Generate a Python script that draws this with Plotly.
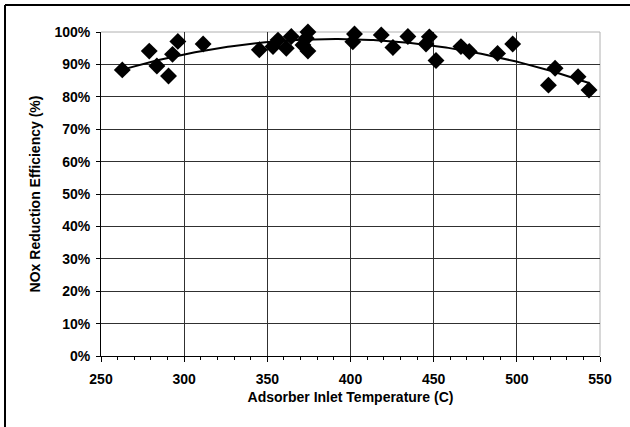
import numpy as np
import plotly.graph_objects as go

# Adsorber inlet temperature (C) and measured NOx reduction efficiency (fraction)
temperature = [262.8, 279.0, 283.6, 290.6, 293.0, 296.2, 311.4,
               345.2, 353.4, 356.4, 361.4, 364.4, 371.4, 373.4, 374.4, 374.4,
               401.4, 402.4, 418.5, 425.5, 434.5, 445.4, 447.4, 451.4,
               466.4, 471.4, 488.4, 497.5, 519.0, 523.0, 536.8, 543.4]
efficiency = [0.883, 0.941, 0.895, 0.864, 0.931, 0.971, 0.963,
              0.945, 0.955, 0.975, 0.950, 0.986, 0.960, 0.981, 1.000, 0.941,
              0.970, 0.994, 0.991, 0.952, 0.986, 0.963, 0.985, 0.912,
              0.955, 0.940, 0.934, 0.963, 0.836, 0.888, 0.862, 0.821]

x_ticks = [250, 300, 350, 400, 450, 500, 550]
y_ticks = [0.0, 0.1, 0.2, 0.3, 0.4, 0.5, 0.6, 0.7, 0.8, 0.9, 1.0]
y_tick_text = ["0%", "10%", "20%", "30%", "40%", "50%", "60%", "70%", "80%", "90%", "100%"]

# Second-order polynomial trendline through the measurements
coef = np.polyfit(temperature, efficiency, 2)
trend_x = np.linspace(min(temperature), max(temperature), 200)
trend_y = np.polyval(coef, trend_x)

FONT = "Arial, Liberation Sans, sans-serif"
W, H = 630, 427
ML, MR, MT, MB = 101, 30, 32, 71

fig = go.Figure()
fig.add_trace(go.Scatter(
    x=temperature, y=efficiency, mode="markers", cliponaxis=False,
    marker=dict(symbol="diamond", size=13, color="black", line=dict(width=0)),
    showlegend=False, hoverinfo="skip"))
fig.add_trace(go.Scatter(
    x=trend_x, y=trend_y, mode="lines", cliponaxis=False,
    line=dict(color="black", width=2),
    showlegend=False, hoverinfo="skip"))

pw = W - ML - MR
ph = H - MT - MB
def px_to_paper_x(px):
    return (px - ML) / pw
def px_to_paper_y(py):
    return (H - MB - py) / ph

shapes = [
    # light frame on top and right of plotting area
    dict(type="line", xref="paper", yref="paper", x0=0, x1=1, y0=1, y1=1,
         line=dict(color="#b0b0b0", width=1), layer="below"),
    dict(type="line", xref="paper", yref="paper", x0=1, x1=1, y0=0, y1=1,
         line=dict(color="#b0b0b0", width=1), layer="below"),
    # chart border: left and top edges (the rest runs past the page)
    dict(type="line", xref="paper", yref="paper",
         x0=px_to_paper_x(5), x1=px_to_paper_x(5),
         y0=px_to_paper_y(H + 2), y1=px_to_paper_y(5),
         line=dict(color="black", width=2)),
    dict(type="line", xref="paper", yref="paper",
         x0=px_to_paper_x(5), x1=px_to_paper_x(W + 2),
         y0=px_to_paper_y(5), y1=px_to_paper_y(5),
         line=dict(color="black", width=2)),
]

tick_font = dict(family=FONT, size=14, color="black", weight="bold")
title_font = dict(family=FONT, size=14, color="black", weight="bold")

fig.update_layout(
    width=W, height=H,
    margin=dict(l=ML, r=MR, t=MT, b=MB),
    paper_bgcolor="white", plot_bgcolor="white",
    font=dict(family=FONT, size=14, color="black"),
    shapes=shapes,
    xaxis=dict(
        range=[250, 550], tickvals=x_ticks, ticktext=[str(v) for v in x_ticks],
        showgrid=True, gridcolor="#303030", gridwidth=1,
        showline=True, linecolor="black", linewidth=1,
        ticks="outside", ticklen=5, tickcolor="black",
        ticklabelstandoff=5,
        minor=dict(dtick=10, tick0=250, ticks="outside", ticklen=3,
                   tickcolor="black", showgrid=False),
        tickfont=tick_font,
        title=dict(text="Adsorber Inlet Temperature (C)", standoff=6,
                   font=title_font),
        zeroline=False, fixedrange=True,
    ),
    yaxis=dict(
        range=[0, 1], tickvals=y_ticks, ticktext=y_tick_text,
        showgrid=True, gridcolor="#303030", gridwidth=1,
        showline=True, linecolor="black", linewidth=1,
        ticks="outside", ticklen=4, tickcolor="black",
        ticklabelstandoff=3,
        tickfont=tick_font,
        title=dict(text="NOx Reduction Efficiency (%)", standoff=10,
                   font=title_font),
        zeroline=False, fixedrange=True,
    ),
)

fig.write_html("out.html")
